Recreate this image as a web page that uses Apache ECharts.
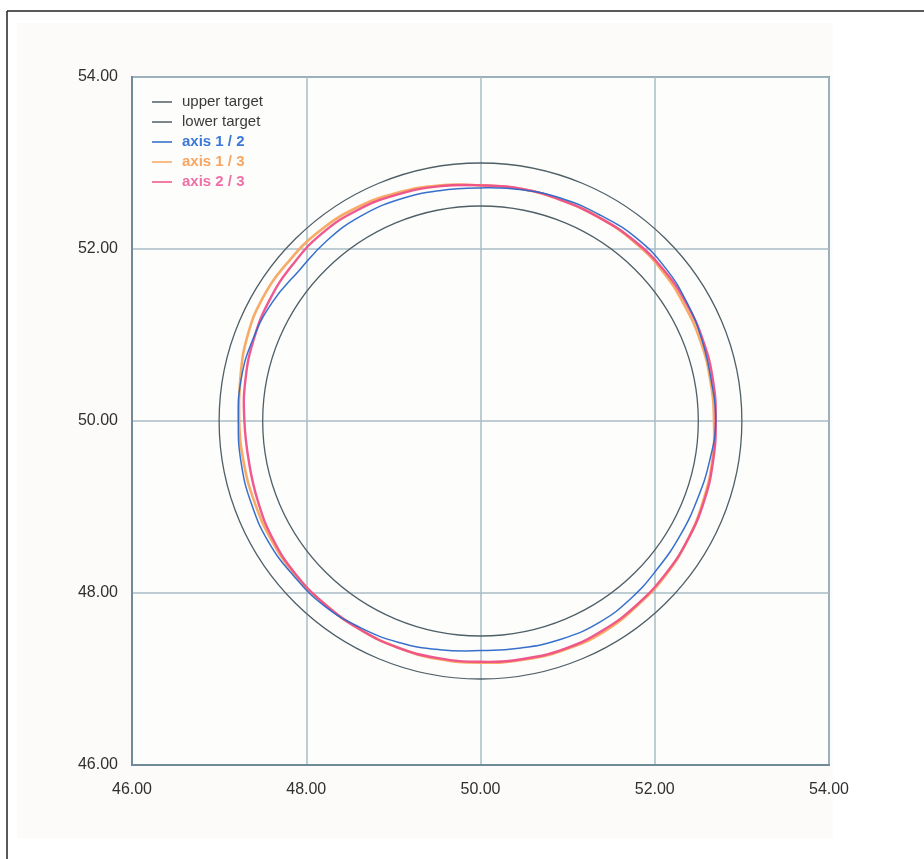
<!DOCTYPE html>
<html>
<head>
<meta charset="utf-8">
<script src="https://cdn.jsdelivr.net/npm/echarts@6/dist/echarts.min.js"></script>
<style>
  html, body { margin: 0; padding: 0; background: #ffffff; }
  #chart { width: 924px; height: 859px; }
</style>
</head>
<body>
<div id="chart"></div>
<script>
// ---- data ----
const axisTicks = [46, 48, 50, 52, 54];
const centerX = 50;
const centerY = 50;
const upperTargetRadius = 3.0;
const lowerTargetRadius = 2.5;

// measurement angles (degrees, counter-clockwise from +x)
const angles = [0, 10, 20, 30, 40, 50, 60, 70, 80, 90, 100, 110, 120, 130, 140, 150, 160, 170,
                180, 190, 200, 210, 220, 230, 240, 250, 260, 270, 280, 290, 300, 310, 320, 330, 340, 350];

// measured radius at each angle
const axis12Radii = [2.70, 2.69, 2.71, 2.74, 2.77, 2.78, 2.76, 2.75, 2.73, 2.71, 2.72, 2.74,
                     2.75, 2.74, 2.72, 2.76, 2.78, 2.79, 2.78, 2.79, 2.80, 2.81, 2.80, 2.80,
                     2.77, 2.74, 2.70, 2.67, 2.68, 2.70, 2.71, 2.69, 2.66, 2.65, 2.65, 2.67];
const axis13Radii = [2.68, 2.68, 2.69, 2.70, 2.72, 2.73, 2.73, 2.73, 2.74, 2.74, 2.78, 2.82,
                     2.86, 2.88, 2.88, 2.88, 2.85, 2.80, 2.77, 2.76, 2.76, 2.77, 2.78, 2.78,
                     2.79, 2.80, 2.81, 2.81, 2.82, 2.83, 2.83, 2.80, 2.78, 2.75, 2.72, 2.70];
const axis23Radii = [2.70, 2.71, 2.72, 2.73, 2.74, 2.74, 2.73, 2.73, 2.74, 2.74, 2.77, 2.80,
                     2.83, 2.84, 2.82, 2.80, 2.77, 2.74, 2.71, 2.70, 2.72, 2.75, 2.77, 2.78,
                     2.79, 2.80, 2.80, 2.80, 2.81, 2.82, 2.81, 2.79, 2.77, 2.75, 2.73, 2.71];

const seriesNames = ['upper target', 'lower target', 'axis 1 / 2', 'axis 1 / 3', 'axis 2 / 3'];
const seriesColors = ['#4f5f66', '#4f5f66', '#2c68c9', '#f7a65e', '#ee5089'];

// ---- conversion from polar readings to x/y data values ----
function toPoints(radii) {
  return angles.map((a, i) => {
    const t = a * Math.PI / 180;
    return [centerX + radii[i] * Math.cos(t), centerY + radii[i] * Math.sin(t)];
  });
}

function targetSeries(name, radius, color) {
  return {
    name: name,
    type: 'custom',
    coordinateSystem: 'cartesian2d',
    itemStyle: { color: color },
    data: [[centerX, centerY, radius]],
    silent: true,
    z: 2,
    renderItem: function (params, api) {
      const c = api.coord([api.value(0), api.value(1)]);
      const s = api.size([api.value(2), api.value(2)]);
      return {
        type: 'ellipse',
        shape: { cx: c[0], cy: c[1], rx: s[0], ry: s[1] },
        style: { fill: 'none', stroke: color, lineWidth: 1.3 }
      };
    }
  };
}

// closed measured loop: every data point is mapped through the axes with api.coord,
// then drawn as one smooth closed outline
function measuredSeries(name, radii, color, width, z) {
  const pts = toPoints(radii);
  return {
    name: name,
    type: 'custom',
    coordinateSystem: 'cartesian2d',
    itemStyle: { color: color },
    data: pts,
    silent: true,
    z: z,
    renderItem: function (params, api) {
      if (params.dataIndex !== 0) return null;
      const pix = pts.map(p => api.coord(p));
      return {
        type: 'polygon',
        shape: { points: pix, smooth: 0.45 },
        style: { fill: 'none', stroke: color, lineWidth: width, opacity: 0.95 }
      };
    }
  };
}

const chart = echarts.init(document.getElementById('chart'), null, { renderer: 'canvas' });

const axisLabelStyle = {
  color: '#303030',
  fontFamily: 'Liberation Sans, Arial, sans-serif',
  fontSize: 16,
  formatter: v => v.toFixed(2)
};

chart.setOption({
  animation: false,
  backgroundColor: '#ffffff',
  graphic: [
    { type: 'rect', z: -10, shape: { x: 17, y: 23, width: 816, height: 815 }, style: { fill: '#fcfbfa' } },
    { type: 'line', shape: { x1: 7, y1: 11, x2: 924, y2: 11 }, style: { stroke: '#222', lineWidth: 1.5 } },
    { type: 'line', shape: { x1: 7, y1: 11, x2: 7, y2: 859 }, style: { stroke: '#222', lineWidth: 1.5 } }
  ],
  grid: {
    left: 132, top: 77, width: 697, height: 688,
    show: true,
    backgroundColor: '#fdfdfc',
    borderColor: '#6f8a98',
    borderWidth: 2
  },
  legend: {
    orient: 'vertical',
    left: 147, top: 88,
    padding: 5,
    itemWidth: 20,
    itemHeight: 1.5,
    itemGap: 2,
    icon: 'rect',
    textStyle: {
      fontFamily: 'Liberation Sans, Arial, sans-serif',
      fontSize: 15, lineHeight: 18, padding: [0, 0, 0, 5]
    },
    data: [
      { name: seriesNames[0], textStyle: { color: '#3a3a3a' } },
      { name: seriesNames[1], textStyle: { color: '#3a3a3a' } },
      { name: seriesNames[2], textStyle: { color: '#3b78d8', fontWeight: 'bold' } },
      { name: seriesNames[3], textStyle: { color: '#f8a560', fontWeight: 'bold' } },
      { name: seriesNames[4], textStyle: { color: '#f06fa6', fontWeight: 'bold' } }
    ]
  },
  xAxis: {
    type: 'value',
    min: axisTicks[0], max: axisTicks[axisTicks.length - 1], interval: 2,
    axisLine: { show: true, lineStyle: { color: '#6f8a98', width: 2 } },
    axisTick: { show: false },
    axisLabel: Object.assign({ margin: 17 }, axisLabelStyle),
    splitLine: { show: true, lineStyle: { color: '#a9bcc7', width: 1.5 } }
  },
  yAxis: {
    type: 'value',
    min: axisTicks[0], max: axisTicks[axisTicks.length - 1], interval: 2,
    axisLine: { show: true, lineStyle: { color: '#6f8a98', width: 2 } },
    axisTick: { show: false },
    axisLabel: Object.assign({ margin: 14 }, axisLabelStyle),
    splitLine: { show: true, lineStyle: { color: '#a9bcc7', width: 1.5 } }
  },
  series: [
    targetSeries(seriesNames[0], upperTargetRadius, seriesColors[0]),
    targetSeries(seriesNames[1], lowerTargetRadius, seriesColors[1]),
    measuredSeries(seriesNames[3], axis13Radii, seriesColors[3], 2.6, 3),
    measuredSeries(seriesNames[4], axis23Radii, seriesColors[4], 2.4, 4),
    measuredSeries(seriesNames[2], axis12Radii, seriesColors[2], 1.5, 5)
  ]
});
</script>
</body>
</html>
